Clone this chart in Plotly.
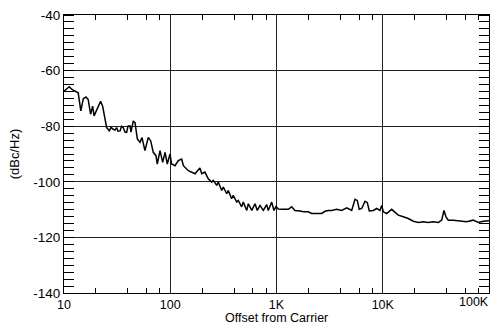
import plotly.graph_objects as go

freq = [10, 11.2, 11.9, 12.7, 13.6, 14.4, 15.2, 16.1, 16.9, 17.8, 18.6, 19.2, 20.6, 22.1, 23.1, 24.3, 25.2, 26.7, 27.7, 29.1,
        30.2, 31.3, 32.2, 33.7, 34.8, 36.1, 37.5, 38.9, 40.0, 41.8, 42.7, 44.9, 46.6, 49.0, 51.9, 54.2, 57.8, 62.1, 65.5, 69.2,
        73.4, 75.5, 80.1, 84.9, 89.3, 93.8, 99.5, 103, 111, 119, 128, 133, 148, 171, 190, 198, 212, 228, 245, 254,
        274, 283, 305, 316, 340, 352, 378, 392, 422, 437, 470, 487, 525, 543, 585, 628, 659, 700, 751, 809,
        837, 901, 946, 989, 1040, 1160, 1290, 1390, 1490, 1660, 1790, 1990, 2140, 2390, 2660, 2860, 3080, 3310, 3690, 4110,
        4580, 5100, 5480, 5760, 6010, 6340, 6810, 7160, 7470, 8150, 8770, 9420, 9780, 10120, 10900, 12140, 13040, 14000, 15600, 17380,
        19410, 21630, 24100, 26850, 29920, 33340, 35890, 37670, 39360, 41400, 46130, 53330, 61660, 71120, 79250, 88310, 98450, 100000]

dbc = [-67.4, -65.8, -66.8, -67.4, -68.0, -74.5, -70.1, -69.5, -70.4, -75.7, -72.8, -76.3, -73.9, -71.0, -72.8, -78.1, -80.5, -81.7, -80.4, -81.1,
       -81.4, -80.5, -81.8, -81.7, -80.0, -80.5, -82.1, -82.2, -80.0, -79.9, -82.1, -78.1, -78.7, -84.6, -85.8, -84.1, -88.8, -84.0, -85.3, -89.4,
       -90.6, -93.6, -88.8, -93.0, -89.4, -93.6, -90.0, -93.6, -94.2, -92.4, -91.8, -94.2, -96.0, -97.1, -95.0, -97.1, -96.5, -98.9, -100.1, -99.5,
       -101.3, -100.1, -103.1, -101.9, -104.3, -103.1, -106.1, -104.9, -107.3, -106.7, -109.0, -107.3, -110.3, -107.9, -110.3, -107.9, -110.3, -108.5, -110.3, -108.2,
       -110.3, -107.3, -110.3, -108.9, -109.8, -109.9, -109.9, -109.0, -110.3, -110.5, -110.8, -110.8, -111.4, -111.4, -111.4, -110.6, -110.3, -110.3, -109.9, -110.3,
       -109.4, -110.3, -106.3, -106.7, -109.9, -109.6, -107.0, -107.5, -110.5, -110.3, -109.6, -110.3, -108.5, -110.8, -111.4, -109.9, -110.8, -112.0, -112.6, -113.2,
       -114.2, -114.6, -114.4, -114.6, -114.4, -114.6, -113.8, -110.3, -112.6, -113.8, -113.8, -114.2, -114.4, -113.8, -114.6, -114.2, -113.8, -114.0]

x_tick_vals = [10, 100, 1000, 10000]
x_tick_text = ["10", "100", "1K", "10K"]
x_last_label = "100K"
x_minor_vals = [m * d for d in [10, 100, 1000, 10000] for m in (2, 4, 6, 8)]
y_tick_vals = [-40, -60, -80, -100, -120, -140]
y_tick_text = ["-40", "-60", "-80", "-100", "-120", "-140"]
x_title = "Offset from Carrier"
y_title = "(dBc/Hz)"

FONT = "Liberation Sans, Arial, sans-serif"

fig = go.Figure()
fig.add_trace(go.Scatter(x=freq, y=dbc, mode="lines",
                         line=dict(color="black", width=1.5), showlegend=False))

fig.update_layout(
    width=491, height=326,
    margin=dict(l=64, r=2, t=15, b=33),
    paper_bgcolor="white", plot_bgcolor="white",
    font=dict(family=FONT, size=13, color="black"),
    xaxis=dict(type="log", range=[1, 5], tickvals=x_tick_vals, ticktext=x_tick_text,
               ticks="", showgrid=True, gridcolor="#222", gridwidth=1,
               showline=True, linecolor="black", linewidth=1, mirror="ticks",
               tickfont=dict(size=12.5), zeroline=False,
               minor=dict(tickmode="array", tickvals=x_minor_vals, ticks="inside",
                          ticklen=5, tickcolor="black", tickwidth=1, showgrid=False)),
    yaxis=dict(range=[-140, -40], tickvals=y_tick_vals, ticktext=y_tick_text, ticks="", showgrid=True,
               gridcolor="#222", gridwidth=1, showline=True, linecolor="black",
               linewidth=1, mirror="ticks", zeroline=False, tickfont=dict(size=13.5),
               minor=dict(dtick=2.5, tick0=-140, ticks="inside", ticklen=10,
                          tickcolor="black", tickwidth=1, showgrid=False),
               title=dict(text=y_title, font=dict(size=13), standoff=10)),
)

fig.add_annotation(x=5, y=0, xref="x", yref="paper", text=x_last_label, showarrow=False,
                   xanchor="right", yanchor="top", xshift=2, yshift=0,
                   font=dict(family=FONT, size=12.5, color="black"))
fig.add_annotation(x=0.5, y=0, xref="paper", yref="paper", text=x_title, showarrow=False,
                   xanchor="center", yanchor="bottom", yshift=-33, borderpad=0,
                   font=dict(family=FONT, size=12.5, color="black"))

fig.write_html("out.html")
